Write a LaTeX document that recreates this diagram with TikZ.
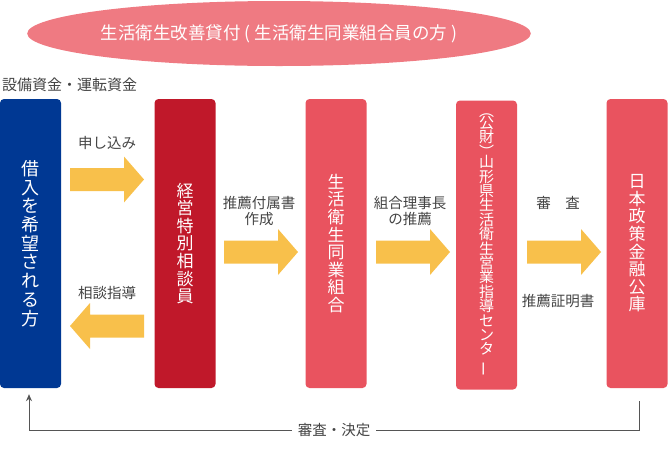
\documentclass[tikz,border=0pt]{standalone}
\usepackage{fontspec}
\setmainfont{Noto Sans CJK JP}
\usepackage{graphicx}
\usetikzlibrary{shapes.geometric,arrows.meta}
\definecolor{cblue}{HTML}{003893}
\definecolor{cred}{HTML}{C0182A}
\definecolor{cpink}{HTML}{E9535F}
\definecolor{cell}{HTML}{EF7A82}
\definecolor{carrow}{HTML}{F8C04B}
\definecolor{ctext}{HTML}{444444}
\definecolor{cline}{HTML}{555555}
\tikzset{
  box/.style={rounded corners=4pt, minimum width=61pt, minimum height=289pt, inner sep=0pt, text=white, align=center, font={\fontsize{17}{17.6}\selectfont}},
  lbl/.style={text=ctext, align=center, inner sep=0pt, font={\fontsize{14.5}{16}\selectfont}},
  rarrow/.pic={\fill[carrow] (0,-11.5) -- (54,-11.5) -- (54,-23) -- (74,0) -- (54,23) -- (54,11.5) -- (0,11.5) -- cycle;}
}
\begin{document}
\begin{tikzpicture}[x=1pt,y=-1pt]
\useasboundingbox (0,0) rectangle (668,453);
% title ellipse
\node[ellipse, fill=cell, minimum width=498pt, minimum height=65pt, inner sep=0pt, text=white, font={\fontsize{17.5}{19}\selectfont}] (title) at (279,33.5) {生活衛生改善貸付 ( 生活衛生同業組合員の方 )};
\node[lbl, anchor=west, font={\fontsize{15}{16}\selectfont}] (fund) at (2,85) {設備資金・運転資金};
% boxes
\node[box, fill=cblue, font={\fontsize{18}{18.7}\selectfont}] (b1) at (30.5,243.5) {借\\入\\を\\希\\望\\さ\\れ\\る\\方};
\node[box, fill=cred] (b2) at (185,243.5) {経\\営\\特\\別\\相\\談\\員};
\node[box, fill=cpink] (b3) at (336,243.5) {生\\活\\衛\\生\\同\\業\\組\\合};
\node[box, fill=cpink, font={\fontsize{15}{14.4}\selectfont}] (b4) at (486.5,245) {︵\\[-2pt]公\\財\\︶\\[-4pt]山\\形\\県\\生\\活\\衛\\生\\営\\業\\指\\導\\セ\\ン\\タ\\[3pt]\rotatebox[origin=c]{90}{ー}};
\node[box, fill=cpink] (b5) at (637,243.5) {日\\本\\政\\策\\金\\融\\公\\庫};
% block arrows
\pic at (70,179.5) {rarrow};
\pic[xscale=-1] at (144,326) {rarrow};
\pic at (224,252) {rarrow};
\pic at (376,252) {rarrow};
\pic at (527,252) {rarrow};
% labels
\node[lbl] (l1) at (107,143) {申し込み};
\node[lbl] (l2) at (107,292.5) {相談指導};
\node[lbl] (l3) at (259,211) {推薦付属書\\作成};
\node[lbl] (l4) at (410,211) {組合理事長\\の推薦};
\node[lbl] (l5) at (558,203) {審　査};
\node[lbl] (l6) at (558,301) {推薦証明書};
% return connector
\draw[cline, line width=1pt, -{Stealth[length=7pt,width=6pt]}] ([xshift=2pt,yshift=-13pt]b5.south) -- ++(0,29) -| node[pos=0.25, fill=white, text=ctext, inner xsep=6pt, font={\fontsize{14.5}{16}\selectfont}] (dec) {審査・決定} ([xshift=-1.5pt,yshift=-6pt]b1.south);
\end{tikzpicture}
\end{document}
